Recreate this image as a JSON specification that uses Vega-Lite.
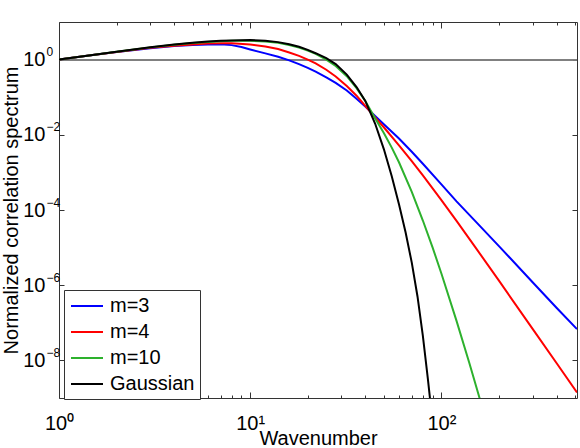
{
  "$schema": "https://vega.github.io/schema/vega-lite/v6.json",
  "width": 518,
  "height": 376,
  "autosize": {"type": "none"},
  "padding": {"left": 59, "top": 22, "right": 3, "bottom": 50},
  "background": "white",
  "config": {
    "font": "Liberation Sans",
    "view": {"stroke": null},
    "axis": {
      "grid": false,
      "domainColor": "#333333",
      "tickColor": "#333333",
      "labelColor": "#000000",
      "titleColor": "#000000",
      "labelFont": "Liberation Sans",
      "titleFont": "Liberation Sans",
      "labelFontSize": 20,
      "titleFontSize": 20,
      "titleFontWeight": "normal"
    }
  },
  "data": {
    "values": [
      {"k": 1, "v": 1, "s": "m=3"},
      {"k": 1.5, "v": 1.318, "s": "m=3"},
      {"k": 2, "v": 1.585, "s": "m=3"},
      {"k": 3, "v": 2.018, "s": "m=3"},
      {"k": 4, "v": 2.291, "s": "m=3"},
      {"k": 5, "v": 2.455, "s": "m=3"},
      {"k": 6, "v": 2.512, "s": "m=3"},
      {"k": 7, "v": 2.541, "s": "m=3"},
      {"k": 8, "v": 2.427, "s": "m=3"},
      {"k": 9, "v": 2.163, "s": "m=3"},
      {"k": 10, "v": 1.862, "s": "m=3"},
      {"k": 12, "v": 1.462, "s": "m=3"},
      {"k": 14, "v": 1.189, "s": "m=3"},
      {"k": 16, "v": 0.955, "s": "m=3"},
      {"k": 18, "v": 0.7586, "s": "m=3"},
      {"k": 20, "v": 0.6026, "s": "m=3"},
      {"k": 22, "v": 0.4786, "s": "m=3"},
      {"k": 25, "v": 0.3388, "s": "m=3"},
      {"k": 28, "v": 0.2399, "s": "m=3"},
      {"k": 32, "v": 0.1514, "s": "m=3"},
      {"k": 36, "v": 0.0912, "s": "m=3"},
      {"k": 40, "v": 0.05623, "s": "m=3"},
      {"k": 45, "v": 0.03162, "s": "m=3"},
      {"k": 50, "v": 0.01906, "s": "m=3"},
      {"k": 60, "v": 0.007943, "s": "m=3"},
      {"k": 70, "v": 0.003548, "s": "m=3"},
      {"k": 80, "v": 0.001698, "s": "m=3"},
      {"k": 100, "v": 0.0004786, "s": "m=3"},
      {"k": 120, "v": 0.0001698, "s": "m=3"},
      {"k": 150, "v": 0.00005129, "s": "m=3"},
      {"k": 200, "v": 0.00001096, "s": "m=3"},
      {"k": 300, "v": 1.202e-6, "s": "m=3"},
      {"k": 400, "v": 2.512e-7, "s": "m=3"},
      {"k": 512, "v": 6.81e-8, "s": "m=3"},

      {"k": 1, "v": 1, "s": "m=4"},
      {"k": 1.5, "v": 1.324, "s": "m=4"},
      {"k": 2, "v": 1.603, "s": "m=4"},
      {"k": 3, "v": 2.065, "s": "m=4"},
      {"k": 4, "v": 2.344, "s": "m=4"},
      {"k": 5, "v": 2.512, "s": "m=4"},
      {"k": 6, "v": 2.661, "s": "m=4"},
      {"k": 7, "v": 2.723, "s": "m=4"},
      {"k": 8, "v": 2.723, "s": "m=4"},
      {"k": 10, "v": 2.512, "s": "m=4"},
      {"k": 12, "v": 2.239, "s": "m=4"},
      {"k": 14, "v": 1.905, "s": "m=4"},
      {"k": 16, "v": 1.549, "s": "m=4"},
      {"k": 18, "v": 1.259, "s": "m=4"},
      {"k": 20, "v": 1.0, "s": "m=4"},
      {"k": 22, "v": 0.7943, "s": "m=4"},
      {"k": 25, "v": 0.537, "s": "m=4"},
      {"k": 28, "v": 0.3548, "s": "m=4"},
      {"k": 32, "v": 0.1995, "s": "m=4"},
      {"k": 36, "v": 0.1096, "s": "m=4"},
      {"k": 40, "v": 0.05888, "s": "m=4"},
      {"k": 45, "v": 0.02884, "s": "m=4"},
      {"k": 50, "v": 0.01585, "s": "m=4"},
      {"k": 60, "v": 0.005248, "s": "m=4"},
      {"k": 70, "v": 0.001995, "s": "m=4"},
      {"k": 80, "v": 0.0008318, "s": "m=4"},
      {"k": 100, "v": 0.000182, "s": "m=4"},
      {"k": 120, "v": 0.00005129, "s": "m=4"},
      {"k": 150, "v": 0.00001047, "s": "m=4"},
      {"k": 200, "v": 1.318e-6, "s": "m=4"},
      {"k": 300, "v": 6.918e-8, "s": "m=4"},
      {"k": 400, "v": 8.511e-9, "s": "m=4"},
      {"k": 512, "v": 1.403e-9, "s": "m=4"},

      {"k": 1, "v": 1, "s": "m=10"},
      {"k": 1.5, "v": 1.334, "s": "m=10"},
      {"k": 2, "v": 1.622, "s": "m=10"},
      {"k": 3, "v": 2.114, "s": "m=10"},
      {"k": 4, "v": 2.483, "s": "m=10"},
      {"k": 5, "v": 2.754, "s": "m=10"},
      {"k": 6, "v": 2.951, "s": "m=10"},
      {"k": 7, "v": 3.090, "s": "m=10"},
      {"k": 8, "v": 3.162, "s": "m=10"},
      {"k": 10, "v": 3.162, "s": "m=10"},
      {"k": 12, "v": 3.020, "s": "m=10"},
      {"k": 14, "v": 2.786, "s": "m=10"},
      {"k": 16, "v": 2.455, "s": "m=10"},
      {"k": 18, "v": 2.089, "s": "m=10"},
      {"k": 20, "v": 1.738, "s": "m=10"},
      {"k": 22, "v": 1.413, "s": "m=10"},
      {"k": 25, "v": 1.0, "s": "m=10"},
      {"k": 28, "v": 0.6761, "s": "m=10"},
      {"k": 32, "v": 0.3631, "s": "m=10"},
      {"k": 36, "v": 0.1738, "s": "m=10"},
      {"k": 40, "v": 0.07943, "s": "m=10"},
      {"k": 45, "v": 0.02754, "s": "m=10"},
      {"k": 50, "v": 0.01122, "s": "m=10"},
      {"k": 55, "v": 0.004571, "s": "m=10"},
      {"k": 60, "v": 0.001862, "s": "m=10"},
      {"k": 70, "v": 0.000302, "s": "m=10"},
      {"k": 80, "v": 0.00005248, "s": "m=10"},
      {"k": 90, "v": 0.00001, "s": "m=10"},
      {"k": 100, "v": 2.042e-6, "s": "m=10"},
      {"k": 120, "v": 1.122e-7, "s": "m=10"},
      {"k": 140, "v": 8.511e-9, "s": "m=10"},
      {"k": 160, "v": 8.318e-10, "s": "m=10"},

      {"k": 1, "v": 1, "s": "Gaussian"},
      {"k": 1.5, "v": 1.334, "s": "Gaussian"},
      {"k": 2, "v": 1.622, "s": "Gaussian"},
      {"k": 3, "v": 2.138, "s": "Gaussian"},
      {"k": 4, "v": 2.512, "s": "Gaussian"},
      {"k": 5, "v": 2.818, "s": "Gaussian"},
      {"k": 6, "v": 3.020, "s": "Gaussian"},
      {"k": 7, "v": 3.162, "s": "Gaussian"},
      {"k": 8, "v": 3.236, "s": "Gaussian"},
      {"k": 10, "v": 3.311, "s": "Gaussian"},
      {"k": 12, "v": 3.162, "s": "Gaussian"},
      {"k": 14, "v": 2.917, "s": "Gaussian"},
      {"k": 16, "v": 2.570, "s": "Gaussian"},
      {"k": 18, "v": 2.188, "s": "Gaussian"},
      {"k": 20, "v": 1.820, "s": "Gaussian"},
      {"k": 22, "v": 1.479, "s": "Gaussian"},
      {"k": 25, "v": 1.096, "s": "Gaussian"},
      {"k": 28, "v": 0.7586, "s": "Gaussian"},
      {"k": 32, "v": 0.3981, "s": "Gaussian"},
      {"k": 36, "v": 0.1862, "s": "Gaussian"},
      {"k": 40, "v": 0.07943, "s": "Gaussian"},
      {"k": 45, "v": 0.01995, "s": "Gaussian"},
      {"k": 50, "v": 0.004169, "s": "Gaussian"},
      {"k": 55, "v": 0.0007943, "s": "Gaussian"},
      {"k": 60, "v": 0.0001413, "s": "Gaussian"},
      {"k": 65, "v": 0.00002512, "s": "Gaussian"},
      {"k": 70, "v": 3.981e-6, "s": "Gaussian"},
      {"k": 75, "v": 5.012e-7, "s": "Gaussian"},
      {"k": 80, "v": 4.467e-8, "s": "Gaussian"},
      {"k": 85, "v": 3.162e-9, "s": "Gaussian"},
      {"k": 88, "v": 6.31e-10, "s": "Gaussian"}
    ]
  },
  "layer": [
    {
      "mark": {"type": "rule", "color": "#808080", "strokeWidth": 1},
      "encoding": {
        "y": {"datum": 1, "type": "quantitative", "scale": {"type": "log", "domain": [1e-9, 10], "nice": false}, "axis": null}
      }
    },
    {
      "mark": {"type": "line", "strokeWidth": 2, "clip": true},
      "encoding": {
        "x": {
          "field": "k", "type": "quantitative",
          "scale": {"type": "log", "domain": [1, 512], "nice": false},
          "axis": {
            "orient": "bottom",
            "values": [1, 2, 3, 4, 5, 6, 7, 8, 9, 10, 20, 30, 40, 50, 60, 70, 80, 90, 100, 200, 300, 400, 500],
            "labelExpr": "datum.value == 1 ? '10⁰' : datum.value == 10 ? '10¹' : datum.value == 100 ? '10²' : ''",
            "tickSize": {"condition": {"test": "datum.value == 1 || datum.value == 10 || datum.value == 100", "value": -6}, "value": -3},
            "labelOverlap": false,
            "labelFlush": false,
            "labelBound": false,
            "labelPadding": 21,
            "title": "Wavenumber",
            "titleBaseline": "alphabetic",
            "titleY": 46
          }
        },
        "y": {
          "field": "v", "type": "quantitative",
          "scale": {"type": "log", "domain": [1e-9, 10], "nice": false},
          "axis": {
            "orient": "left",
            "values": [1e-8, 1e-6, 1e-4, 1e-2, 1],
            "labelExpr": "'10'",
            "tickSize": -5,
            "labelOverlap": false,
            "labelFlush": false,
            "labelBound": false,
            "labelPadding": 19,
            "title": "Normalized correlation spectrum",
            "titlePadding": 1
          }
        },
        "color": {
          "field": "s", "type": "nominal",
          "scale": {"domain": ["m=3", "m=4", "m=10", "Gaussian"], "range": ["#0000ff", "#ff0000", "#2db12d", "#000000"]},
          "legend": {
            "orient": "none",
            "legendX": 5,
            "legendY": 268,
            "title": null,
            "symbolType": "M-1.6,0H1.6",
            "symbolSize": 400,
            "symbolStrokeWidth": 2,
            "symbolOffset": 7,
            "labelOffset": 12,
            "labelFont": "Liberation Sans",
            "labelFontSize": 20,
            "labelColor": "#000000",
            "strokeColor": "#333333",
            "fillColor": "#ffffff",
            "padding": 5,
            "rowPadding": 5
          }
        }
      }
    },
    {
      "mark": {"type": "point", "opacity": 0},
      "encoding": {
        "x": {
          "field": "k", "type": "quantitative",
          "scale": {"type": "log", "domain": [1, 512], "nice": false},
          "axis": {
            "orient": "top",
            "values": [1, 2, 3, 4, 5, 6, 7, 8, 9, 10, 20, 30, 40, 50, 60, 70, 80, 90, 100, 200, 300, 400, 500],
            "labels": false,
            "tickSize": {"condition": {"test": "datum.value == 1 || datum.value == 10 || datum.value == 100", "value": -6}, "value": -3},
            "title": null
          }
        },
        "y": {
          "field": "v", "type": "quantitative",
          "scale": {"type": "log", "domain": [1e-9, 10], "nice": false},
          "axis": {
            "orient": "right",
            "values": [1e-8, 1e-6, 1e-4, 1e-2, 1],
            "labelExpr": "datum.value > 0.5 ? '0' : datum.value > 0.005 ? '−2' : datum.value > 0.00005 ? '−4' : datum.value > 0.0000005 ? '−6' : '−8'",
            "labelFontSize": 12,
            "labelAlign": "left",
            "labelPadding": -526,
            "labelOffset": -8,
            "labelOverlap": false,
            "labelFlush": false,
            "labelBound": false,
            "tickSize": -5,
            "title": null
          }
        }
      }
    }
  ],
  "resolve": {"axis": {"x": "independent", "y": "independent"}}
}
